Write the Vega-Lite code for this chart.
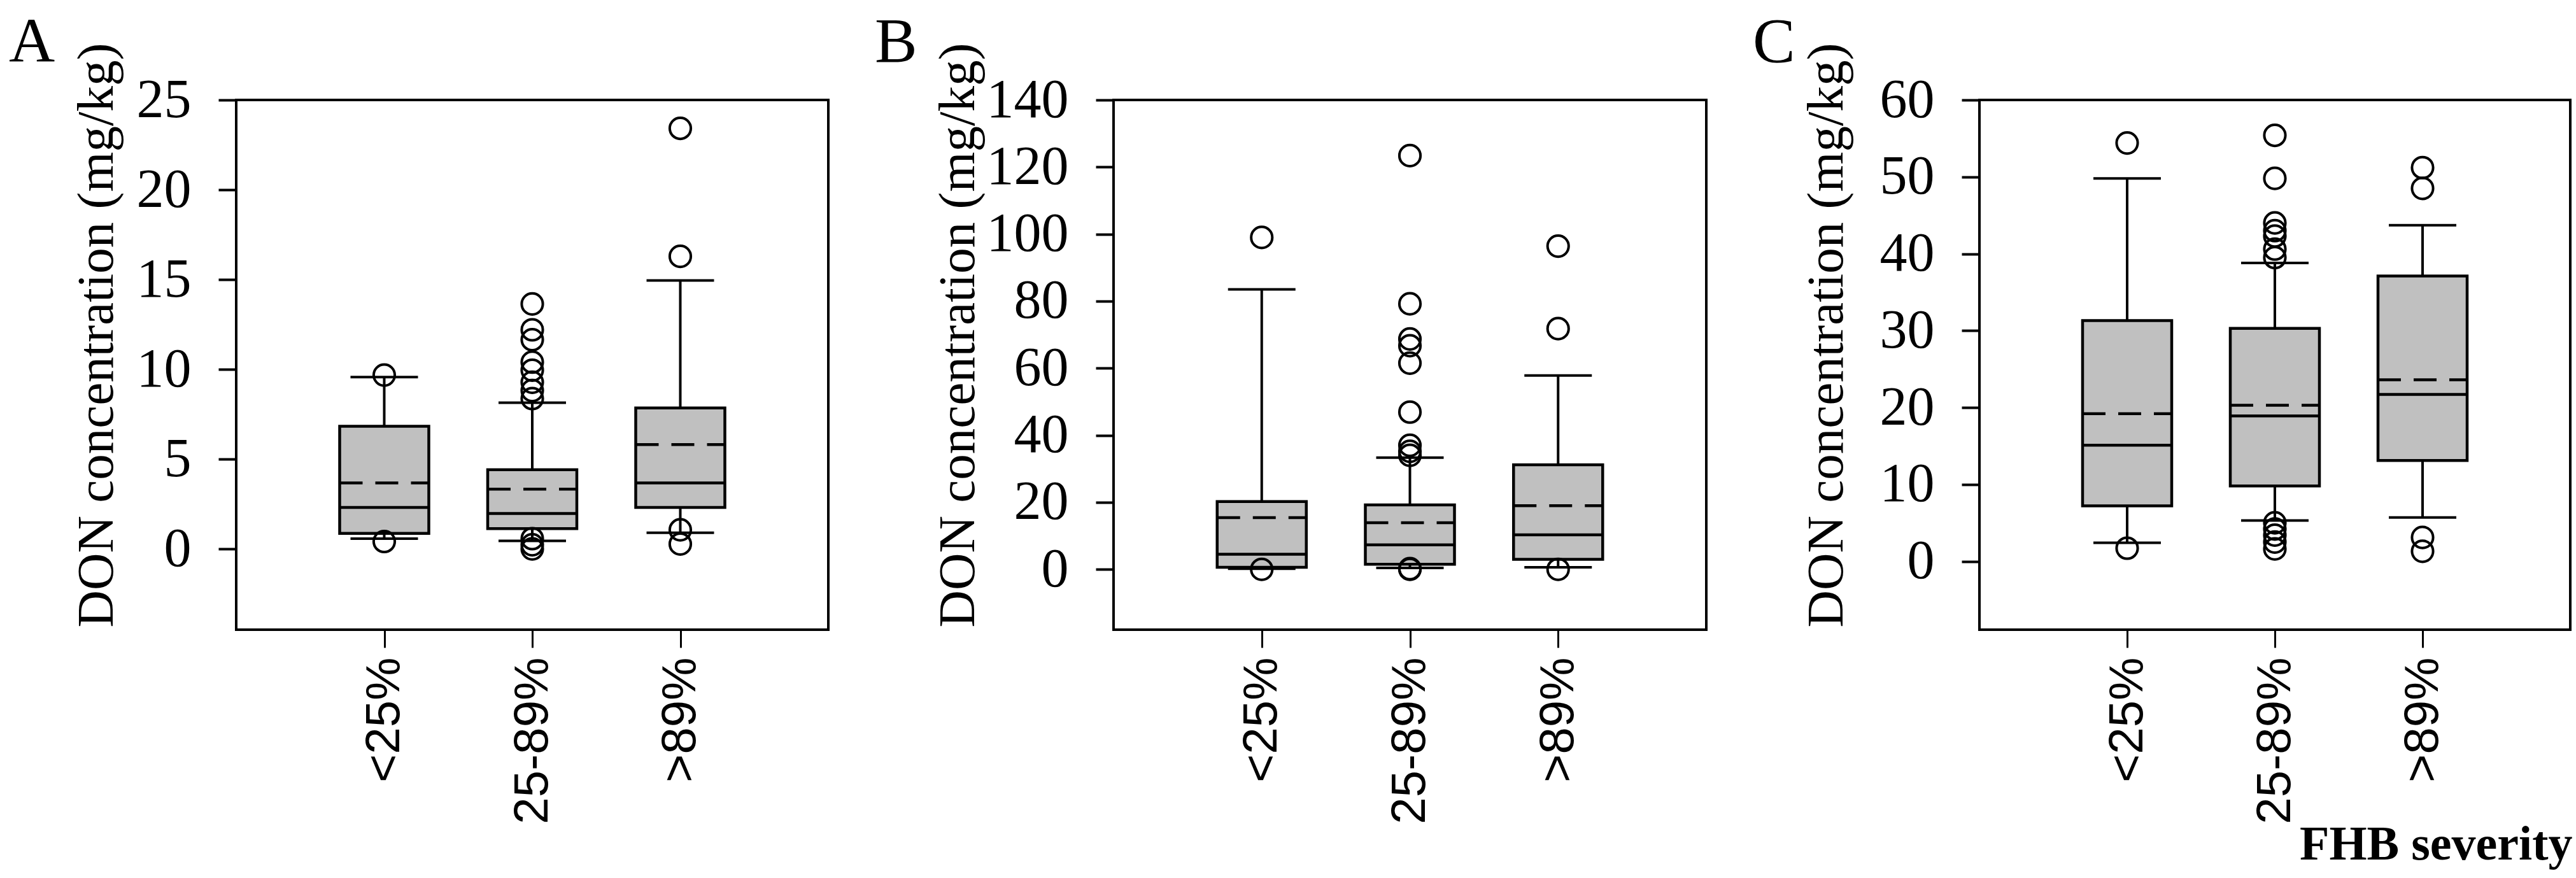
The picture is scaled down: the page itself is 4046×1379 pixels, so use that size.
{
  "$schema": "https://vega.github.io/schema/vega-lite/v6.json",
  "background": "white",
  "padding": {"left": 12, "top": 15, "right": 0, "bottom": 0},
  "spacing": 69,
  "datasets": {
    "A_box": [
      {"sev": "<25%", "lo": 0.57, "q1": 0.86, "med": 2.31, "mean": 3.67, "q3": 6.83, "hi": 9.57},
      {"sev": "25-89%", "lo": 0.45, "q1": 1.13, "med": 1.97, "mean": 3.33, "q3": 4.41, "hi": 8.14},
      {"sev": ">89%", "lo": 0.9, "q1": 2.31, "med": 3.67, "mean": 5.81, "q3": 7.85, "hi": 14.95}
    ],
    "A_out": [
      {"sev": "<25%", "val": 9.68}, {"sev": "<25%", "val": 0.41},
      {"sev": "25-89%", "val": 13.64}, {"sev": "25-89%", "val": 12.2}, {"sev": "25-89%", "val": 11.65},
      {"sev": "25-89%", "val": 10.4}, {"sev": "25-89%", "val": 9.95}, {"sev": "25-89%", "val": 9.28},
      {"sev": "25-89%", "val": 8.82}, {"sev": "25-89%", "val": 8.37}, {"sev": "25-89%", "val": 0.57},
      {"sev": "25-89%", "val": 0.23}, {"sev": "25-89%", "val": 0.0},
      {"sev": ">89%", "val": 23.42}, {"sev": ">89%", "val": 16.29}, {"sev": ">89%", "val": 1.06}, {"sev": ">89%", "val": 0.27}
    ],
    "B_box": [
      {"sev": "<25%", "lo": 0.2, "q1": 0.6, "med": 4.5, "mean": 15.4, "q3": 20.2, "hi": 83.5},
      {"sev": "25-89%", "lo": 0.4, "q1": 1.5, "med": 7.3, "mean": 13.9, "q3": 19.2, "hi": 33.3},
      {"sev": ">89%", "lo": 0.6, "q1": 3.0, "med": 10.3, "mean": 19.0, "q3": 31.2, "hi": 57.8}
    ],
    "B_out": [
      {"sev": "<25%", "val": 99.0}, {"sev": "<25%", "val": 0.0},
      {"sev": "25-89%", "val": 123.4}, {"sev": "25-89%", "val": 79.2}, {"sev": "25-89%", "val": 68.7},
      {"sev": "25-89%", "val": 66.7}, {"sev": "25-89%", "val": 61.5}, {"sev": "25-89%", "val": 46.9},
      {"sev": "25-89%", "val": 37.0}, {"sev": "25-89%", "val": 35.2}, {"sev": "25-89%", "val": 34.0},
      {"sev": "25-89%", "val": 0.2}, {"sev": "25-89%", "val": 0.0},
      {"sev": ">89%", "val": 96.4}, {"sev": ">89%", "val": 71.8}, {"sev": ">89%", "val": 0.0}
    ],
    "C_box": [
      {"sev": "<25%", "lo": 2.4, "q1": 7.2, "med": 15.1, "mean": 19.2, "q3": 31.3, "hi": 49.8},
      {"sev": "25-89%", "lo": 5.3, "q1": 9.8, "med": 18.9, "mean": 20.3, "q3": 30.3, "hi": 38.8},
      {"sev": ">89%", "lo": 5.7, "q1": 13.1, "med": 21.7, "mean": 23.6, "q3": 37.1, "hi": 43.7}
    ],
    "C_out": [
      {"sev": "<25%", "val": 54.4}, {"sev": "<25%", "val": 1.7},
      {"sev": "25-89%", "val": 55.4}, {"sev": "25-89%", "val": 49.8}, {"sev": "25-89%", "val": 44.0},
      {"sev": "25-89%", "val": 43.0}, {"sev": "25-89%", "val": 42.3}, {"sev": "25-89%", "val": 40.6},
      {"sev": "25-89%", "val": 39.5}, {"sev": "25-89%", "val": 5.0}, {"sev": "25-89%", "val": 4.2},
      {"sev": "25-89%", "val": 3.4}, {"sev": "25-89%", "val": 2.5}, {"sev": "25-89%", "val": 1.6},
      {"sev": ">89%", "val": 51.2}, {"sev": ">89%", "val": 48.5}, {"sev": ">89%", "val": 3.1}, {"sev": ">89%", "val": 1.3}
    ]
  },
  "hconcat": [
    {
      "width": 930, "height": 832,
      "title": {"text": "A", "dx": -357, "dy": 55},
      "encoding": {
        "x": {"field": "sev", "type": "ordinal", "sort": ["<25%", "25-89%", ">89%"], "scale": {"type": "point", "padding": 1}, "axis": {"title": null}}
      },
      "layer": [
        {"data": {"name": "A_box"}, "mark": {"type": "rule", "color": "black", "strokeWidth": 4},
         "encoding": {"y": {"field": "lo", "type": "quantitative", "scale": {"domain": [-4.5, 25], "nice": false, "zero": false},
           "axis": {"title": "DON concentration (mg/kg)", "values": [0, 5, 10, 15, 20, 25], "titleX": -195, "titleY": 369}}, "y2": {"field": "hi"}}},
        {"data": {"name": "A_box"}, "mark": {"type": "rule", "color": "black", "strokeWidth": 4, "xOffset": -53, "x2Offset": 53},
         "encoding": {"x2": {"field": "sev"}, "y": {"field": "lo", "type": "quantitative", "scale": {"domain": [-4.5, 25], "nice": false, "zero": false},
           "axis": {"title": "DON concentration (mg/kg)", "values": [0, 5, 10, 15, 20, 25], "titleX": -195, "titleY": 369}}}},
        {"data": {"name": "A_box"}, "mark": {"type": "rule", "color": "black", "strokeWidth": 4, "xOffset": -53, "x2Offset": 53},
         "encoding": {"x2": {"field": "sev"}, "y": {"field": "hi", "type": "quantitative", "scale": {"domain": [-4.5, 25], "nice": false, "zero": false},
           "axis": {"title": "DON concentration (mg/kg)", "values": [0, 5, 10, 15, 20, 25], "titleX": -195, "titleY": 369}}}},
        {"data": {"name": "A_box"}, "mark": {"type": "rect", "fill": "#c0c0c0", "stroke": "black", "strokeWidth": 4.5, "xOffset": -70, "x2Offset": 70},
         "encoding": {"x2": {"field": "sev"}, "y": {"field": "q1", "type": "quantitative", "scale": {"domain": [-4.5, 25], "nice": false, "zero": false},
           "axis": {"title": "DON concentration (mg/kg)", "values": [0, 5, 10, 15, 20, 25], "titleX": -195, "titleY": 369}}, "y2": {"field": "q3"}}},
        {"data": {"name": "A_box"}, "mark": {"type": "rule", "color": "black", "strokeWidth": 4.5, "xOffset": -70, "x2Offset": 70},
         "encoding": {"x2": {"field": "sev"}, "y": {"field": "med", "type": "quantitative", "scale": {"domain": [-4.5, 25], "nice": false, "zero": false},
           "axis": {"title": "DON concentration (mg/kg)", "values": [0, 5, 10, 15, 20, 25], "titleX": -195, "titleY": 369}}}},
        {"data": {"name": "A_box"}, "mark": {"type": "rule", "color": "black", "strokeWidth": 4.5, "strokeDash": [36, 20], "xOffset": -70, "x2Offset": 70},
         "encoding": {"x2": {"field": "sev"}, "y": {"field": "mean", "type": "quantitative", "scale": {"domain": [-4.5, 25], "nice": false, "zero": false},
           "axis": {"title": "DON concentration (mg/kg)", "values": [0, 5, 10, 15, 20, 25], "titleX": -195, "titleY": 369}}}},
        {"data": {"name": "A_out"}, "mark": {"type": "point", "shape": "circle", "filled": false, "color": "black", "strokeWidth": 4, "size": 1100, "opacity": 1},
         "encoding": {"y": {"field": "val", "type": "quantitative", "scale": {"domain": [-4.5, 25], "nice": false, "zero": false},
           "axis": {"title": "DON concentration (mg/kg)", "values": [0, 5, 10, 15, 20, 25], "titleX": -195, "titleY": 369}}}}
      ]
    },
    {
      "width": 931, "height": 832,
      "title": {"text": "B", "dx": -375, "dy": 55},
      "encoding": {
        "x": {"field": "sev", "type": "ordinal", "sort": ["<25%", "25-89%", ">89%"], "scale": {"type": "point", "padding": 1}, "axis": {"title": null}}
      },
      "layer": [
        {"data": {"name": "B_box"}, "mark": {"type": "rule", "color": "black", "strokeWidth": 4},
         "encoding": {"y": {"field": "lo", "type": "quantitative", "scale": {"domain": [-18, 140], "nice": false, "zero": false},
           "axis": {"title": "DON concentration (mg/kg)", "values": [0, 20, 40, 60, 80, 100, 120, 140], "titleX": -220, "titleY": 369}}, "y2": {"field": "hi"}}},
        {"data": {"name": "B_box"}, "mark": {"type": "rule", "color": "black", "strokeWidth": 4, "xOffset": -53, "x2Offset": 53},
         "encoding": {"x2": {"field": "sev"}, "y": {"field": "lo", "type": "quantitative", "scale": {"domain": [-18, 140], "nice": false, "zero": false},
           "axis": {"title": "DON concentration (mg/kg)", "values": [0, 20, 40, 60, 80, 100, 120, 140], "titleX": -220, "titleY": 369}}}},
        {"data": {"name": "B_box"}, "mark": {"type": "rule", "color": "black", "strokeWidth": 4, "xOffset": -53, "x2Offset": 53},
         "encoding": {"x2": {"field": "sev"}, "y": {"field": "hi", "type": "quantitative", "scale": {"domain": [-18, 140], "nice": false, "zero": false},
           "axis": {"title": "DON concentration (mg/kg)", "values": [0, 20, 40, 60, 80, 100, 120, 140], "titleX": -220, "titleY": 369}}}},
        {"data": {"name": "B_box"}, "mark": {"type": "rect", "fill": "#c0c0c0", "stroke": "black", "strokeWidth": 4.5, "xOffset": -70, "x2Offset": 70},
         "encoding": {"x2": {"field": "sev"}, "y": {"field": "q1", "type": "quantitative", "scale": {"domain": [-18, 140], "nice": false, "zero": false},
           "axis": {"title": "DON concentration (mg/kg)", "values": [0, 20, 40, 60, 80, 100, 120, 140], "titleX": -220, "titleY": 369}}, "y2": {"field": "q3"}}},
        {"data": {"name": "B_box"}, "mark": {"type": "rule", "color": "black", "strokeWidth": 4.5, "xOffset": -70, "x2Offset": 70},
         "encoding": {"x2": {"field": "sev"}, "y": {"field": "med", "type": "quantitative", "scale": {"domain": [-18, 140], "nice": false, "zero": false},
           "axis": {"title": "DON concentration (mg/kg)", "values": [0, 20, 40, 60, 80, 100, 120, 140], "titleX": -220, "titleY": 369}}}},
        {"data": {"name": "B_box"}, "mark": {"type": "rule", "color": "black", "strokeWidth": 4.5, "strokeDash": [36, 20], "xOffset": -70, "x2Offset": 70},
         "encoding": {"x2": {"field": "sev"}, "y": {"field": "mean", "type": "quantitative", "scale": {"domain": [-18, 140], "nice": false, "zero": false},
           "axis": {"title": "DON concentration (mg/kg)", "values": [0, 20, 40, 60, 80, 100, 120, 140], "titleX": -220, "titleY": 369}}}},
        {"data": {"name": "B_out"}, "mark": {"type": "point", "shape": "circle", "filled": false, "color": "black", "strokeWidth": 4, "size": 1100, "opacity": 1},
         "encoding": {"y": {"field": "val", "type": "quantitative", "scale": {"domain": [-18, 140], "nice": false, "zero": false},
           "axis": {"title": "DON concentration (mg/kg)", "values": [0, 20, 40, 60, 80, 100, 120, 140], "titleX": -220, "titleY": 369}}}}
      ]
    },
    {
      "width": 928, "height": 832,
      "title": {"text": "C", "dx": -356, "dy": 55},
      "encoding": {
        "x": {"field": "sev", "type": "ordinal", "sort": ["<25%", "25-89%", ">89%"], "scale": {"type": "point", "padding": 1},
          "axis": {"title": "FHB severity", "titleX": 931, "titleY": 360, "titleAlign": "right", "titleBaseline": "alphabetic", "titleAngle": 0, "titleFont": "Liberation Serif", "titleFontWeight": "bold", "titleFontSize": 76}}
      },
      "layer": [
        {"data": {"name": "C_box"}, "mark": {"type": "rule", "color": "black", "strokeWidth": 4},
         "encoding": {"y": {"field": "lo", "type": "quantitative", "scale": {"domain": [-8.9, 60], "nice": false, "zero": false},
           "axis": {"title": "DON concentration (mg/kg)", "values": [0, 10, 20, 30, 40, 50, 60], "titleX": -216, "titleY": 369}}, "y2": {"field": "hi"}}},
        {"data": {"name": "C_box"}, "mark": {"type": "rule", "color": "black", "strokeWidth": 4, "xOffset": -53, "x2Offset": 53},
         "encoding": {"x2": {"field": "sev"}, "y": {"field": "lo", "type": "quantitative", "scale": {"domain": [-8.9, 60], "nice": false, "zero": false},
           "axis": {"title": "DON concentration (mg/kg)", "values": [0, 10, 20, 30, 40, 50, 60], "titleX": -216, "titleY": 369}}}},
        {"data": {"name": "C_box"}, "mark": {"type": "rule", "color": "black", "strokeWidth": 4, "xOffset": -53, "x2Offset": 53},
         "encoding": {"x2": {"field": "sev"}, "y": {"field": "hi", "type": "quantitative", "scale": {"domain": [-8.9, 60], "nice": false, "zero": false},
           "axis": {"title": "DON concentration (mg/kg)", "values": [0, 10, 20, 30, 40, 50, 60], "titleX": -216, "titleY": 369}}}},
        {"data": {"name": "C_box"}, "mark": {"type": "rect", "fill": "#c0c0c0", "stroke": "black", "strokeWidth": 4.5, "xOffset": -70, "x2Offset": 70},
         "encoding": {"x2": {"field": "sev"}, "y": {"field": "q1", "type": "quantitative", "scale": {"domain": [-8.9, 60], "nice": false, "zero": false},
           "axis": {"title": "DON concentration (mg/kg)", "values": [0, 10, 20, 30, 40, 50, 60], "titleX": -216, "titleY": 369}}, "y2": {"field": "q3"}}},
        {"data": {"name": "C_box"}, "mark": {"type": "rule", "color": "black", "strokeWidth": 4.5, "xOffset": -70, "x2Offset": 70},
         "encoding": {"x2": {"field": "sev"}, "y": {"field": "med", "type": "quantitative", "scale": {"domain": [-8.9, 60], "nice": false, "zero": false},
           "axis": {"title": "DON concentration (mg/kg)", "values": [0, 10, 20, 30, 40, 50, 60], "titleX": -216, "titleY": 369}}}},
        {"data": {"name": "C_box"}, "mark": {"type": "rule", "color": "black", "strokeWidth": 4.5, "strokeDash": [36, 20], "xOffset": -70, "x2Offset": 70},
         "encoding": {"x2": {"field": "sev"}, "y": {"field": "mean", "type": "quantitative", "scale": {"domain": [-8.9, 60], "nice": false, "zero": false},
           "axis": {"title": "DON concentration (mg/kg)", "values": [0, 10, 20, 30, 40, 50, 60], "titleX": -216, "titleY": 369}}}},
        {"data": {"name": "C_out"}, "mark": {"type": "point", "shape": "circle", "filled": false, "color": "black", "strokeWidth": 4, "size": 1100, "opacity": 1},
         "encoding": {"y": {"field": "val", "type": "quantitative", "scale": {"domain": [-8.9, 60], "nice": false, "zero": false},
           "axis": {"title": "DON concentration (mg/kg)", "values": [0, 10, 20, 30, 40, 50, 60], "titleX": -216, "titleY": 369}}}}
      ]
    }
  ],
  "config": {
    "view": {"stroke": "black", "strokeWidth": 4},
    "title": {"font": "Liberation Serif", "fontSize": 100, "fontWeight": "normal", "color": "black", "anchor": "start", "frame": "group", "baseline": "alphabetic", "offset": 0},
    "axis": {"grid": false, "domain": false, "tickColor": "black", "labelColor": "black", "titleColor": "black"},
    "axisY": {"labelFont": "Liberation Serif", "labelFontSize": 86, "labelPadding": 43, "tickSize": 28, "tickWidth": 4,
      "titleFont": "Liberation Serif", "titleFontSize": 81, "titleFontWeight": "normal", "titleAlign": "center", "titleBaseline": "alphabetic", "titleAngle": -90},
    "axisX": {"labelFont": "Liberation Sans", "labelFontSize": 76, "labelAngle": -90, "labelPadding": 15, "labelLimit": 0, "tickSize": 28, "tickWidth": 3}
  }
}
